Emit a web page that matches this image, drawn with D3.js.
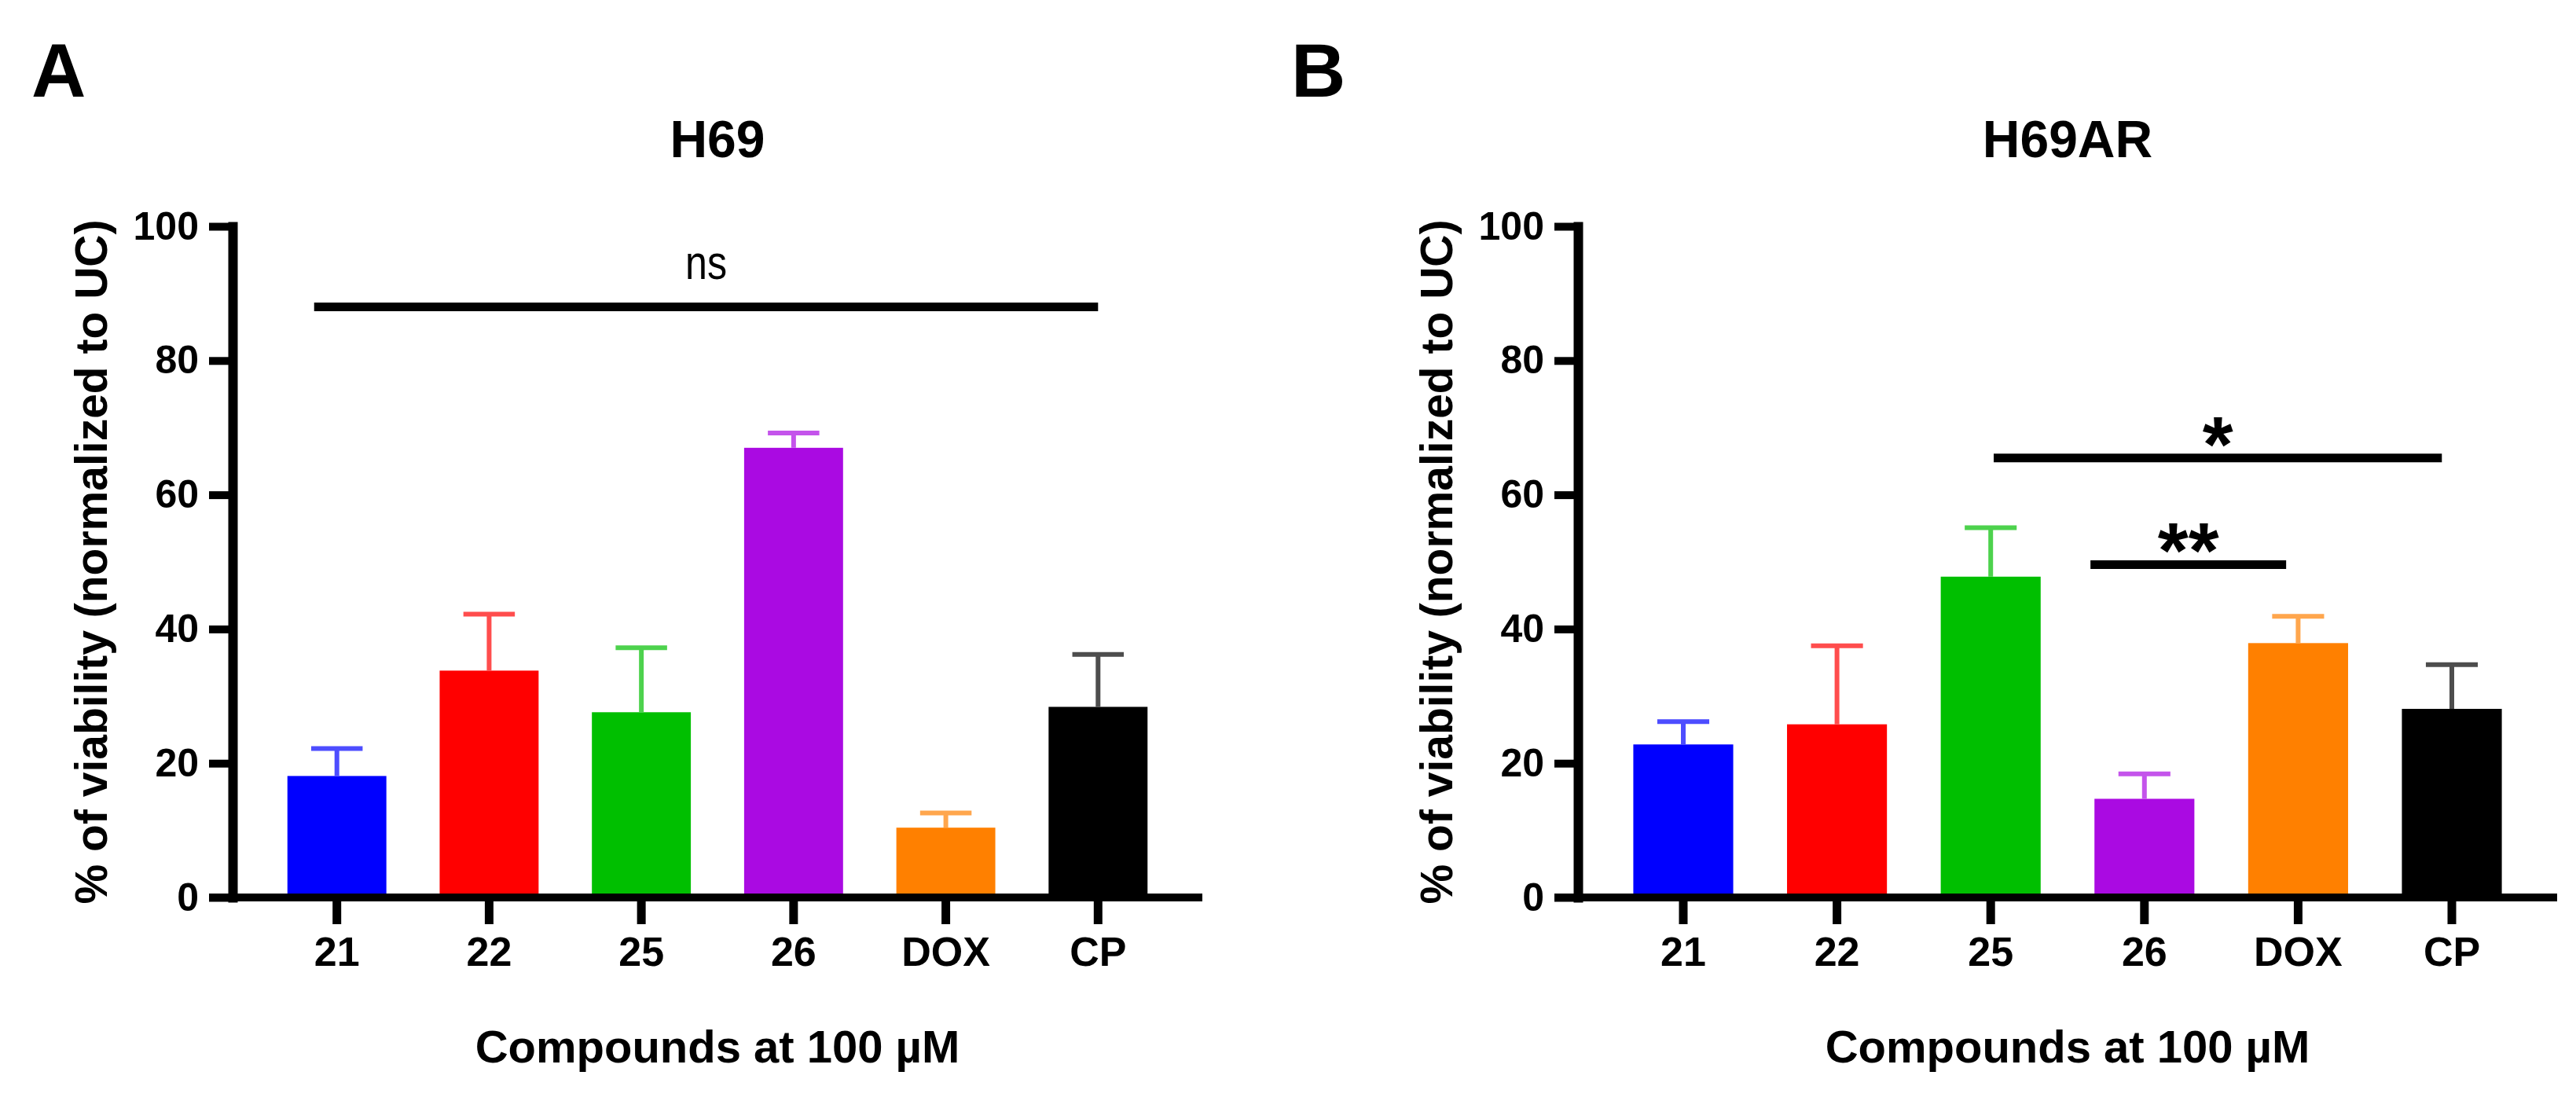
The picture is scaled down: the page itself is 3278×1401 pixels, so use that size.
<!DOCTYPE html>
<html>
<head>
<meta charset="utf-8">
<script src="https://cdn.jsdelivr.net/npm/d3@7"></script>
<style>
	body { margin: 0; background: #fff; }
	text { font-family: "Liberation Sans", Arial, sans-serif; }
</style>
</head>
<body>
<div id="chart"></div>
<script>
// categories on the x axis
var compounds = ['21', '22', '25', '26', 'DOX', 'CP'];
var bar_colors = ['#0000ff', '#ff0000', '#00bf00', '#aa0ae2', '#ff8000', '#000000'];

// H69 cells: mean and upper error (SD)
var h69_mean = [18.1, 33.8, 27.6, 67.0, 10.4, 28.4];
var h69_err  = [4.1, 8.4, 9.6, 2.2, 2.2, 7.8];

// H69AR cells: mean and upper error (SD)
var h69ar_mean = [22.8, 25.8, 47.8, 14.7, 37.9, 28.1];
var h69ar_err  = [3.4, 11.7, 7.3, 3.7, 4.0, 6.6];

// y ticks
var y_ticks = [0, 20, 40, 60, 80, 100];

// significance brackets: from, to, height, label
var h69_sig   = [ { from: '21', to: 'CP', value: 88, label: 'ns' } ];
var h69ar_sig = [ { from: '25', to: 'CP', value: 65.5, label: '*' },
                  { from: '26', to: 'DOX', value: 49.6, label: '**' } ];

var width  = 3278;
var height = 1401;

var svg = d3.select('#chart')
			.append('svg')
			.attr('width', width)
			.attr('height', height);

// where the bracket ends sit inside their bands (fraction of bandwidth)
var bracket_ends = { 'ns': [0.27, 0.5], '*': [0.53, 0.4], '**': [-0.04, 0.38] };

function drawPanel(opt) {
	var g = svg.append('g');

	var x_scale = d3.scaleBand()
					.domain(compounds)
					.range([opt.left, opt.right])
					.paddingInner(0.35)
					.paddingOuter(0.36);
	var y_scale = d3.scaleLinear()
					.domain([0, 100])
					.range([1142, 288]);

	var data = compounds.map(function(c, i) {
		return { name: c, mean: opt.mean[i], err: opt.err[i], color: bar_colors[i] };
	});

	// bars
	g.selectAll('rect.bar')
	 .data(data)
	 .enter()
	 .append('rect')
	 .attr('class', 'bar')
	 .attr('x', function(d) { return x_scale(d.name); })
	 .attr('width', x_scale.bandwidth())
	 .attr('y', function(d) { return y_scale(d.mean); })
	 .attr('height', function(d) { return y_scale(0) - y_scale(d.mean); })
	 .attr('fill', function(d) { return d.color; });

	// error bars (upper half only)
	var err = g.selectAll('g.err')
			   .data(data)
			   .enter()
			   .append('g')
			   .attr('class', 'err')
			   .attr('stroke', function(d) { return d3.interpolateRgb(d.color, '#ffffff')(0.3); });
	err.append('line')
	   .attr('x1', function(d) { return x_scale(d.name) + x_scale.bandwidth() / 2; })
	   .attr('x2', function(d) { return x_scale(d.name) + x_scale.bandwidth() / 2; })
	   .attr('y1', function(d) { return y_scale(d.mean); })
	   .attr('y2', function(d) { return y_scale(d.mean + d.err); })
	   .attr('stroke-width', 6);
	err.append('line')
	   .attr('x1', function(d) { return x_scale(d.name) + x_scale.bandwidth() * 0.24; })
	   .attr('x2', function(d) { return x_scale(d.name) + x_scale.bandwidth() * 0.76; })
	   .attr('y1', function(d) { return y_scale(d.mean + d.err); })
	   .attr('y2', function(d) { return y_scale(d.mean + d.err); })
	   .attr('stroke-width', 6);

	// y axis
	var y_axis = d3.axisLeft(y_scale)
				   .tickValues(y_ticks)
				   .tickSize(30)
				   .tickSizeOuter(0)
				   .tickPadding(13);
	var ya = g.append('g')
			  .attr('transform', 'translate(' + opt.left + ',0)')
			  .call(y_axis);
	ya.select('.domain').attr('stroke-width', 12).attr('stroke-linecap', 'square');
	ya.selectAll('.tick line').attr('stroke-width', 10);
	ya.selectAll('.tick text')
	  .attr('font-size', 50)
	  .attr('font-weight', 'bold')
	  .attr('fill', '#000');

	// x axis
	var x_axis = d3.axisBottom(x_scale)
				   .tickSize(34)
				   .tickSizeOuter(0)
				   .tickPadding(16);
	var xa = g.append('g')
			  .attr('transform', 'translate(0,' + y_scale(0) + ')')
			  .call(x_axis);
	xa.select('.domain').remove();
	xa.append('line')
	  .attr('x1', opt.left - 30)
	  .attr('x2', opt.right)
	  .attr('stroke', '#000')
	  .attr('stroke-width', 10);
	xa.selectAll('.tick line').attr('stroke-width', 11);
	xa.selectAll('.tick text')
	  .attr('font-size', 52)
	  .attr('font-weight', 'bold')
	  .attr('fill', '#000');

	// significance brackets
	opt.sig.forEach(function(s) {
		var ends = bracket_ends[s.label];
		var x1 = x_scale(s.from) + x_scale.bandwidth() * ends[0];
		var x2 = x_scale(s.to) + x_scale.bandwidth() * ends[1];
		var yy = y_scale(s.value);
		g.append('line')
		 .attr('x1', x1).attr('x2', x2)
		 .attr('y1', yy).attr('y2', yy)
		 .attr('stroke', '#000')
		 .attr('stroke-width', 11);
		var t = g.append('text')
				 .attr('x', (x1 + x2) / 2)
				 .attr('text-anchor', 'middle')
				 .text(s.label);
		if (s.label === 'ns') {
			t.attr('y', yy - 35)
			 .attr('font-size', 62)
			 .attr('textLength', 53)
			 .attr('lengthAdjust', 'spacingAndGlyphs');
		} else {
			t.attr('y', yy + 17)
			 .attr('font-size', 100)
			 .attr('font-weight', 'bold');
		}
	});

	// titles
	var cx = (opt.left + opt.right) / 2;
	g.append('text')
	 .attr('x', cx)
	 .attr('y', 200)
	 .attr('text-anchor', 'middle')
	 .attr('font-size', 66)
	 .attr('font-weight', 'bold')
	 .text(opt.title);
	g.append('text')
	 .attr('x', opt.letter_x)
	 .attr('y', 123)
	 .attr('font-size', 96)
	 .attr('font-weight', 'bold')
	 .text(opt.letter);
	g.append('text')
	 .attr('x', cx)
	 .attr('y', 1352)
	 .attr('text-anchor', 'middle')
	 .attr('font-size', 58)
	 .attr('font-weight', 'bold')
	 .text('Compounds at 100 \u00b5M');
	g.append('text')
	 .attr('transform', 'translate(' + (opt.left - 160) + ',' + ((y_scale(0) + y_scale(100)) / 2) + ') rotate(-90)')
	 .attr('text-anchor', 'middle')
	 .attr('font-size', 57)
	 .attr('font-weight', 'bold')
	 .text('% of viability (normalized to UC)');
}

drawPanel({ left: 296, right: 1530, mean: h69_mean, err: h69_err, sig: h69_sig,
			title: 'H69', letter: 'A', letter_x: 40 });
drawPanel({ left: 2008, right: 3254, mean: h69ar_mean, err: h69ar_err, sig: h69ar_sig,
			title: 'H69AR', letter: 'B', letter_x: 1643 });
</script>
</body>
</html>
